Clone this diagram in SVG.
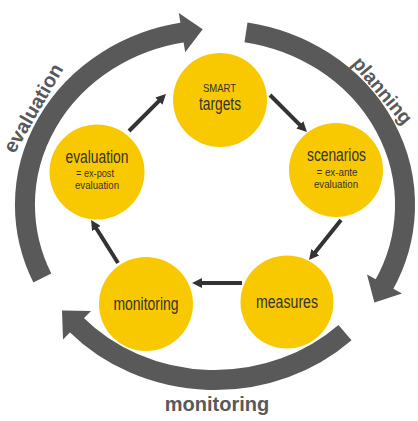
<svg xmlns="http://www.w3.org/2000/svg" width="418" height="421" viewBox="0 0 418 421">
<style>
.band{fill:none;stroke:#595959;stroke-width:20;stroke-linecap:butt}
.head{fill:#595959}
.lbl{font-family:"Liberation Sans",Arial,sans-serif;font-weight:bold;font-size:20px;fill:#595959;text-anchor:middle}
.node{fill:#F8C800}
.t{font-family:"Liberation Sans Narrow","Liberation Sans",Arial,sans-serif;fill:#333;text-anchor:middle}
.big{font-size:17.5px}
.sm{font-size:11.5px}
.con{stroke:#333;stroke-width:4;fill:none;marker-end:url(#ah)}
</style>
<defs>
<marker id="ah" markerUnits="userSpaceOnUse" markerWidth="10" markerHeight="10" refX="2" refY="5" orient="auto">
<path d="M0,0 L10,5 L0,10 z" fill="#333"/>
</marker>
</defs>
<g id="cycle">
<g id="arc-evaluation">
<path class="band" d="M42.3,278 A190,175 0 0 1 183,32.4"/>
<polygon class="head" points="178.8,12.9 202.7,29.2 185.2,52.3"/>
<text class="lbl" transform="translate(33,108) rotate(-60)" x="0" y="7">evaluation</text>
</g>
<g id="arc-planning">
<path class="band" d="M246,32.3 A190,175 0 0 1 384,285"/>
<polygon class="head" points="402,293.6 374.4,302.4 367,274.4"/>
<text class="lbl" style="font-size:19.5px" transform="translate(382,91) rotate(50)" x="0" y="6">planning</text>
</g>
<g id="arc-monitoring">
<path class="band" d="M345,332.6 A190,175 0 0 1 76,324.3"/>
<polygon class="head" points="91,311 62,310.6 63,339.6"/>
<text class="lbl" x="217" y="411">monitoring</text>
</g>
</g>
<g id="connectors">
<line class="con" x1="129" y1="131" x2="160.3" y2="99.7"/>
<line class="con" x1="270" y1="95" x2="301.3" y2="126.3"/>
<line class="con" x1="341" y1="220" x2="314" y2="253.8"/>
<line class="con" x1="242" y1="283" x2="200" y2="283"/>
<line class="con" x1="118" y1="263" x2="95.3" y2="226.8"/>
</g>
<g id="node-smart">
<circle class="node" cx="220" cy="100" r="47"/>
<text class="t sm" x="219.5" y="92" textLength="33" lengthAdjust="spacingAndGlyphs">SMART</text>
<text class="t big" x="220" y="110" textLength="42" lengthAdjust="spacingAndGlyphs">targets</text>
</g>
<g id="node-evaluation">
<circle class="node" cx="97" cy="172" r="47.5"/>
<text class="t big" x="97" y="163" textLength="63" lengthAdjust="spacingAndGlyphs">evaluation</text>
<text class="t sm" x="95" y="177" textLength="38" lengthAdjust="spacingAndGlyphs">= ex-post</text>
<text class="t sm" x="97" y="189" textLength="44" lengthAdjust="spacingAndGlyphs">evaluation</text>
</g>
<g id="node-scenarios">
<circle class="node" cx="336" cy="170" r="47"/>
<text class="t big" x="336.5" y="161" textLength="59" lengthAdjust="spacingAndGlyphs">scenarios</text>
<text class="t sm" x="337" y="176" textLength="41" lengthAdjust="spacingAndGlyphs">= ex-ante</text>
<text class="t sm" x="336" y="188" textLength="44" lengthAdjust="spacingAndGlyphs">evaluation</text>
</g>
<g id="node-measures">
<circle class="node" cx="287" cy="302" r="46.5"/>
<text class="t big" x="287" y="308" textLength="62" lengthAdjust="spacingAndGlyphs">measures</text>
</g>
<g id="node-monitoring">
<circle class="node" cx="146" cy="304" r="47"/>
<text class="t big" x="146" y="310" textLength="65" lengthAdjust="spacingAndGlyphs">monitoring</text>
</g>
</svg>
